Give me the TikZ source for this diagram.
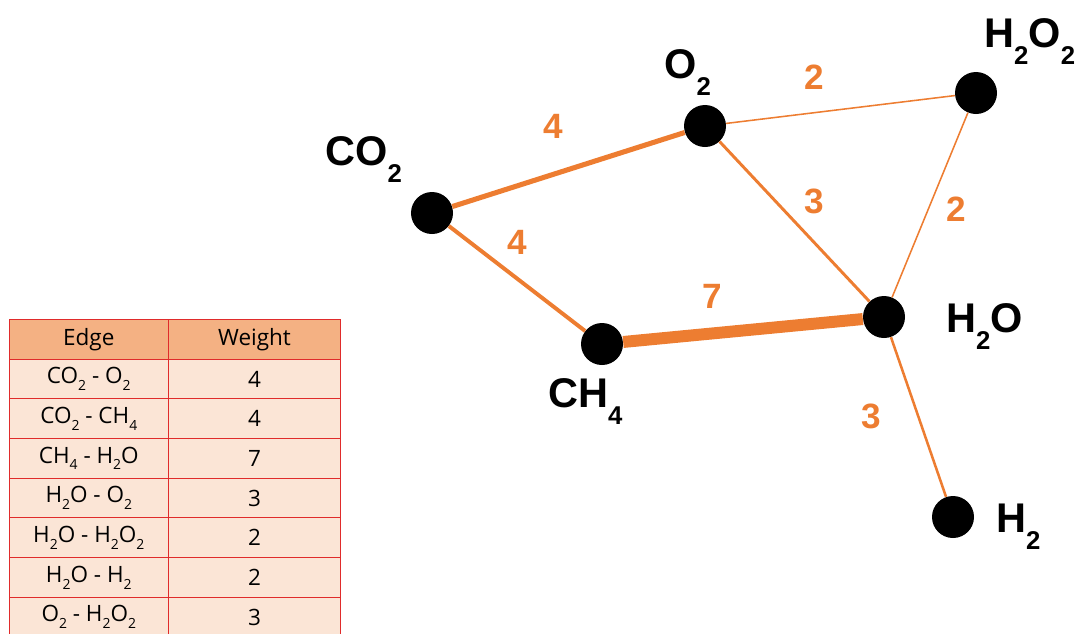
\documentclass[tikz,border=0pt]{standalone}
\usepackage{fontspec}
\setmainfont{Liberation Sans}
\newfontfamily\tablefont{Open Sans}
\usetikzlibrary{positioning}
\definecolor{edgeOrange}{HTML}{ED7D31}
\definecolor{headFill}{HTML}{F4B183}
\definecolor{rowFill}{HTML}{FBE5D6}
\definecolor{gridRed}{HTML}{E02B2B}
\newcommand{\sbs}[1]{\raisebox{-0.42em}{\scalebox{0.62}{#1}}}
\newcommand{\tsb}[1]{\raisebox{-0.3em}{\scalebox{0.62}{#1}}}
\tikzset{
  dot/.style={circle, fill=black, inner sep=0pt, minimum size=1.05cm},
  molname/.style={font=\fontsize{29.5}{32}\selectfont\bfseries, inner sep=0pt, anchor=base west},
  weight/.style={font=\fontsize{25}{27}\selectfont\bfseries, text=edgeOrange, inner sep=0pt},
  link/.style={draw=edgeOrange, line width=#1},
  cell/.style={draw=gridRed, line width=0.7pt, fill=rowFill, minimum height=0.9925cm,
               inner sep=0pt, font=\tablefont\fontsize{16}{18}\selectfont},
  headcell/.style={cell, fill=headFill},
}

\begin{document}
\begin{tikzpicture}[x=0.025cm, y=-0.025cm]
\useasboundingbox (0,0) rectangle (1080,633);

% molecules
\node[dot] (co2) at (432,213) {};
\node[dot] (o2) at (705,126) {};
\node[dot] (h2o2) at (976,93) {};
\node[dot] (h2o) at (884,317) {};
\node[dot] (ch4) at (602,344) {};
\node[dot] (h2) at (953,517) {};

\node[molname] (lco2) at (325,165) {CO\sbs{2}};
\node[molname] (lo2) at (664,78) {O\sbs{2}};
\node[molname] (lh2o2) at (984,47) {H\sbs{2}O\sbs{2}};
\node[molname] (lh2o) at (946,332) {H\sbs{2}O};
\node[molname] (lch4) at (548,407) {CH\sbs{4}};
\node[molname] (lh2) at (996,532) {H\sbs{2}};

% edges
\draw[link=3.6pt] (co2) -- (o2);
\draw[link=2.8pt] (co2) -- (ch4);
\draw[link=8.5pt] (ch4) -- (h2o);
\draw[link=2.1pt] (o2) -- (h2o);
\draw[link=1.1pt] (o2) -- (h2o2);
\draw[link=1.1pt] (h2o2) -- (h2o);
\draw[link=1.8pt] (h2o) -- (h2);

\node[weight] (wco2o2) at (553,126) {4};
\node[weight] (wco2ch4) at (517,242) {4};
\node[weight] (wo2h2o2) at (814,77) {2};
\node[weight] (wo2h2o) at (814,201) {3};
\node[weight] (wh2o2h2o) at (956,209) {2};
\node[weight] (wch4h2o) at (712,296) {7};
\node[weight] (wh2oh2) at (871,416) {3};

% table
\node[headcell, minimum width=3.975cm] (edgehead) at (88.8,339.3) {Edge};
\node[headcell, minimum width=4.31cm] (weighthead) at (254.5,339.3) {Weight};
\foreach \i/\e/\w in {1/CO\tsb{2} - O\tsb{2}/4, 2/CO\tsb{2} - CH\tsb{4}/4,
                      3/CH\tsb{4} - H\tsb{2}O/7, 4/H\tsb{2}O - O\tsb{2}/3,
                      5/H\tsb{2}O - H\tsb{2}O\tsb{2}/2, 6/H\tsb{2}O - H\tsb{2}/2,
                      7/O\tsb{2} - H\tsb{2}O\tsb{2}/3} {
  \node[cell, minimum width=3.975cm] (edge\i) at (88.8,339.3+39.7*\i) {\e};
  \node[cell, minimum width=4.31cm] (weight\i) at (254.5,339.3+39.7*\i) {\w};
}
\end{tikzpicture}
\end{document}
